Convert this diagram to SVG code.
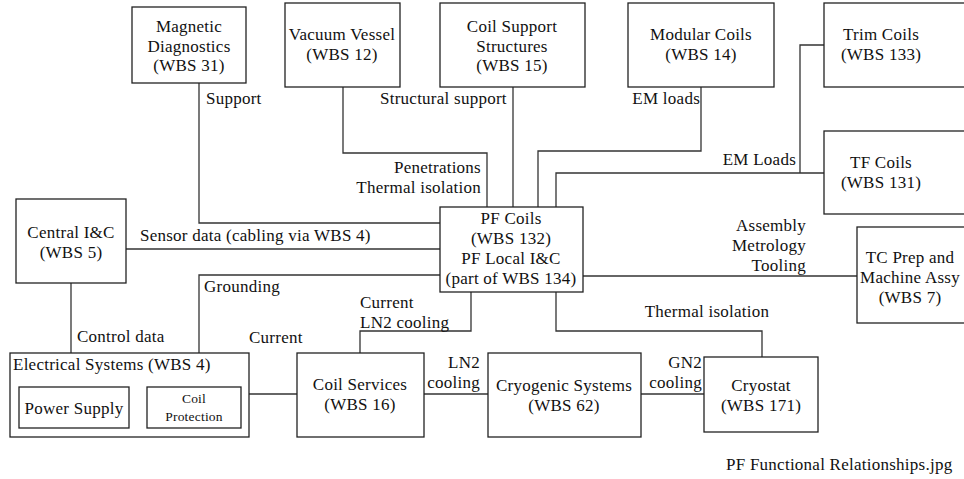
<svg xmlns="http://www.w3.org/2000/svg" width="964" height="479" viewBox="0 0 964 479">
<style>
.b{fill:#fff;stroke:#222;stroke-width:1.3}
.c{fill:none;stroke:#333;stroke-width:1.3}
text{font-family:'Liberation Serif','Times New Roman',serif;font-size:17px;letter-spacing:0.25px;fill:#111}
.m{text-anchor:middle}
.e{text-anchor:end}
.s{font-size:13.5px;letter-spacing:0.2px}
</style>
<rect width="964" height="479" fill="#fff"/>
<g id="connectors">
<polyline class="c" points="199,83 199,223 440,223"/>
<polyline class="c" points="343,87 343,153 487,153 487,207"/>
<polyline class="c" points="513,87 513,207"/>
<polyline class="c" points="701,87 701,151 538,151 538,207"/>
<polyline class="c" points="556,207 556,173 824,173"/>
<polyline class="c" points="800,173 800,45 824,45"/>
<polyline class="c" points="126,249 440,249"/>
<polyline class="c" points="199,353 199,275 440,275"/>
<polyline class="c" points="71,283 71,353"/>
<polyline class="c" points="583,276 857,276"/>
<polyline class="c" points="471,292 471,331 360,331 360,353"/>
<polyline class="c" points="556,292 556,331 762,331 762,357"/>
<polyline class="c" points="249,394 297,394"/>
<polyline class="c" points="424,394 488,394"/>
<polyline class="c" points="641,394 704,394"/>
<polyline class="c" points="129,404 147,404"/>
</g>
<g id="labels">
<text x="206" y="104">Support</text>
<text x="380" y="104">Structural support</text>
<text class="e" x="700" y="104">EM loads</text>
<text class="e" x="481" y="173">Penetrations</text>
<text class="e" x="481" y="193">Thermal isolation</text>
<text class="e" x="796" y="165">EM Loads</text>
<text x="140" y="241">Sensor data (cabling via WBS 4)</text>
<text x="204" y="292">Grounding</text>
<text x="360" y="308">Current</text>
<text x="360" y="328">LN2 cooling</text>
<text x="77" y="342">Control data</text>
<text x="249" y="343">Current</text>
<text class="e" x="806" y="231">Assembly</text>
<text class="e" x="806" y="251">Metrology</text>
<text class="e" x="806" y="271">Tooling</text>
<text class="m" x="707" y="317">Thermal isolation</text>
<text class="e" x="480" y="368">LN2</text>
<text class="e" x="480" y="388">cooling</text>
<text class="e" x="702" y="368">GN2</text>
<text class="e" x="702" y="388">cooling</text>
</g>
<g id="magnetic-diagnostics">
<rect class="b" x="132" y="7" width="114" height="76"/>
<text class="m" x="189" y="32">Magnetic</text>
<text class="m" x="189" y="52">Diagnostics</text>
<text class="m" x="189" y="71">(WBS 31)</text>
</g>
<g id="vacuum-vessel">
<rect class="b" x="285" y="3" width="115" height="84"/>
<text class="m" x="342" y="40">Vacuum Vessel</text>
<text class="m" x="342" y="60">(WBS 12)</text>
</g>
<g id="coil-support">
<rect class="b" x="440" y="3" width="145" height="84"/>
<text class="m" x="512" y="32">Coil Support</text>
<text class="m" x="512" y="52">Structures</text>
<text class="m" x="512" y="71">(WBS 15)</text>
</g>
<g id="modular-coils">
<rect class="b" x="628" y="3" width="146" height="84"/>
<text class="m" x="701" y="40">Modular Coils</text>
<text class="m" x="701" y="60">(WBS 14)</text>
</g>
<g id="trim-coils">
<rect class="b" x="824" y="3" width="160" height="84"/>
<text class="m" x="881" y="40">Trim Coils</text>
<text class="m" x="881" y="60">(WBS 133)</text>
</g>
<g id="tf-coils">
<rect class="b" x="824" y="131" width="160" height="83"/>
<text class="m" x="881" y="168">TF Coils</text>
<text class="m" x="881" y="188">(WBS 131)</text>
</g>
<g id="central-ic">
<rect class="b" x="16" y="199" width="110" height="84"/>
<text class="m" x="71" y="238">Central I&amp;C</text>
<text class="m" x="71" y="258">(WBS 5)</text>
</g>
<g id="pf-coils">
<rect class="b" x="440" y="207" width="143" height="85"/>
<text class="m" x="511" y="224">PF Coils</text>
<text class="m" x="511" y="244">(WBS 132)</text>
<text class="m" x="511" y="264">PF Local I&amp;C</text>
<text class="m" x="511" y="284">(part of WBS 134)</text>
</g>
<g id="tc-prep">
<rect class="b" x="857" y="227" width="127" height="96"/>
<text class="m" x="910" y="263">TC Prep and</text>
<text class="m" x="910" y="283">Machine Assy</text>
<text class="m" x="910" y="303">(WBS 7)</text>
</g>
<g id="electrical-systems">
<rect class="b" x="10" y="353" width="239" height="84"/>
<text x="13" y="370">Electrical Systems (WBS 4)</text>
</g>
<g id="power-supply">
<rect class="b" x="19" y="387" width="110" height="41"/>
<text class="m" x="74" y="414">Power Supply</text>
</g>
<g id="coil-protection">
<rect class="b" x="147" y="387" width="94" height="41"/>
<text class="m s" x="194" y="403">Coil</text>
<text class="m s" x="194" y="421">Protection</text>
</g>
<g id="coil-services">
<rect class="b" x="297" y="353" width="127" height="84"/>
<text class="m" x="360" y="390">Coil Services</text>
<text class="m" x="360" y="410">(WBS 16)</text>
</g>
<g id="cryogenic-systems">
<rect class="b" x="488" y="353" width="153" height="84"/>
<text class="m" x="564" y="391">Cryogenic Systems</text>
<text class="m" x="564" y="411">(WBS 62)</text>
</g>
<g id="cryostat">
<rect class="b" x="704" y="357" width="114" height="75"/>
<text class="m" x="761" y="391">Cryostat</text>
<text class="m" x="761" y="411">(WBS 171)</text>
</g>
<text x="726" y="470">PF Functional Relationships.jpg</text>
</svg>
